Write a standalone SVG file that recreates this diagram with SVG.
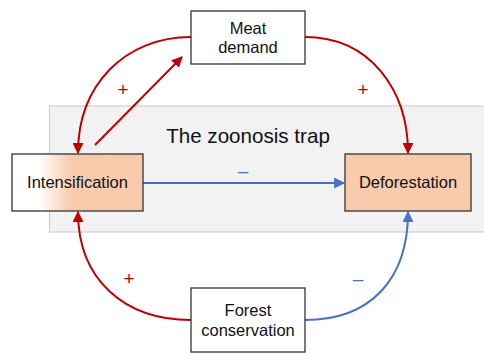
<svg xmlns="http://www.w3.org/2000/svg" width="484" height="353" viewBox="0 0 484 353">
<defs>
<linearGradient id="g" x1="0" y1="0" x2="1" y2="0">
<stop offset="0.2" stop-color="#ffffff"/>
<stop offset="0.45" stop-color="#f8cbad"/>
<stop offset="1" stop-color="#f8cbad"/>
</linearGradient>
<marker id="ar" viewBox="0 0 10 10" refX="9" refY="5" markerWidth="11" markerHeight="11" markerUnits="userSpaceOnUse" orient="auto"><path d="M0,0 L10,5 L0,10 z" fill="#c00000"/></marker>
<marker id="ab" viewBox="0 0 10 10" refX="9" refY="5" markerWidth="11" markerHeight="11" markerUnits="userSpaceOnUse" orient="auto"><path d="M0,0 L10,5 L0,10 z" fill="#4472c4"/></marker>
</defs>
<style>
.box{stroke:#333;stroke-width:1.3}
.t{font-family:"Liberation Sans",Arial,sans-serif;font-size:16.5px;fill:#111;text-anchor:middle}
.r{fill:none;stroke:#c00000;stroke-width:2}
.b{fill:none;stroke:#4472c4;stroke-width:2}
.lr{font-family:"Liberation Sans",Arial,sans-serif;font-size:19px;fill:#c00000;text-anchor:middle}
.lb{font-family:"Liberation Sans",Arial,sans-serif;font-size:19px;fill:#4472c4;text-anchor:middle}
</style>
<rect id="trap-bg" x="49.5" y="106" width="440" height="126" fill="#f2f2f2" stroke="#c8c8c8" stroke-width="1"/>
<text x="248" y="143" font-family="'Liberation Sans',Arial,sans-serif" font-size="20.6" fill="#111" text-anchor="middle">The zoonosis trap</text>
<g id="connectors">
<path class="r" d="M191,37 C125,37 78,85 78,153" marker-end="url(#ar)"/>
<path class="r" d="M95,145 L182,57" marker-end="url(#ar)"/>
<path class="r" d="M305,37 C370,37 408,90 408,153" marker-end="url(#ar)"/>
<path class="b" d="M143,183 L344,183" marker-end="url(#ab)"/>
<path class="r" d="M191,320 C125,320 78,280 78,212" marker-end="url(#ar)"/>
<path class="b" d="M305,320 C370,320 408,280 408,212" marker-end="url(#ab)"/>
<text class="lr" x="123" y="96">+</text>
<text class="lr" x="363" y="96">+</text>
<text class="lb" x="243" y="177">–</text>
<text class="lr" x="129" y="285">+</text>
<text class="lb" x="358" y="285">–</text>
</g>
<g id="meat-demand">
<rect class="box" x="191" y="11" width="114" height="53" fill="#fff"/>
<text class="t" x="248" y="34">Meat</text>
<text class="t" x="248" y="53">demand</text>
</g>
<g id="intensification">
<rect class="box" x="12" y="154" width="131" height="57" fill="url(#g)"/>
<text class="t" x="77.5" y="188">Intensification</text>
</g>
<g id="deforestation">
<rect class="box" x="345" y="154" width="126" height="57" fill="#f8cbad"/>
<text class="t" x="408" y="188">Deforestation</text>
</g>
<g id="forest-conservation">
<rect class="box" x="191" y="288" width="114" height="64" fill="#fff"/>
<text class="t" x="248" y="316">Forest</text>
<text class="t" x="248" y="336">conservation</text>
</g>
</svg>
